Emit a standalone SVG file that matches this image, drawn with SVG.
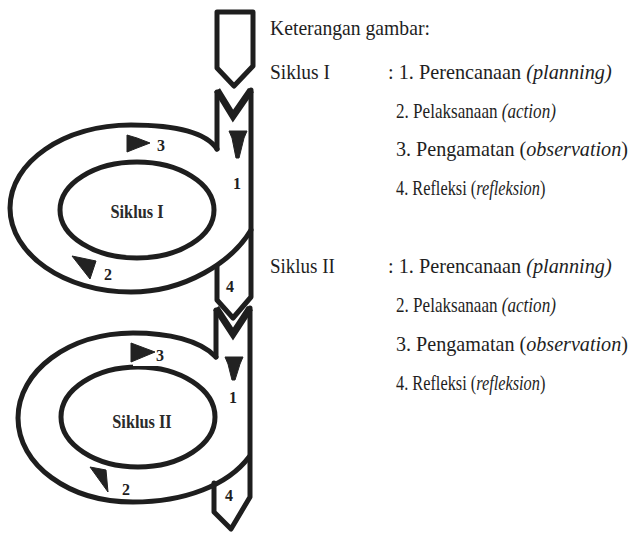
<svg xmlns="http://www.w3.org/2000/svg" width="633" height="533" viewBox="0 0 633 533">
  <style>
    .ln { fill: none; stroke: #1e1e1e; stroke-width: 5; stroke-linejoin: round; stroke-linecap: round; }
    .vee { fill: none; stroke: #1e1e1e; stroke-width: 7; stroke-linejoin: miter; }
    .tri { fill: #222; stroke: #222; stroke-width: 1; stroke-linejoin: round; }
    .num { font-family: "Liberation Serif", "Times New Roman", serif; font-weight: bold; font-size: 16px; fill: #1e1e1e; }
    .ctr { font-family: "Liberation Serif", "Times New Roman", serif; font-weight: bold; font-size: 19px; fill: #2a2a2a; text-anchor: middle; }
    .leg { font-family: "Liberation Serif", "Times New Roman", serif; font-size: 22px; fill: #1e1e1e; }
    .it { font-style: italic; }
  </style>

  <rect width="633" height="533" fill="#ffffff"/>

  <!-- entry arrow -->
  <g id="start-arrow">
    <path class="ln" d="M217 12 L253 12 L253 66 L234 86 L217 68 Z"/>
  </g>

  <!-- cycle I spiral -->
  <g id="cycle-1">
    <path class="ln" d="M217 149 L217 92"/>
    <path class="vee" d="M217 90 L233 116 L251 90"/>
    <path class="ln" d="M251 90 L251 297 L233 318 L217 300 L217 266"/>
    <path class="ln" d="M217 149 C205 131 172 125 131 125 C64 125 10 162 10 208 C10 254 64 292 131 292 C185 292 232 262 251 230"/>
    <ellipse class="ln" cx="137" cy="210" rx="77" ry="48"/>
    <text class="ctr" transform="translate(137 218) scale(0.86 1)">Siklus I</text>
  </g>

  <!-- cycle II spiral -->
  <g id="cycle-2">
    <path class="ln" d="M216 357 L216 310"/>
    <path class="vee" d="M216 308 L233 334 L250 308"/>
    <path class="ln" d="M250 308 L250 497 L231 529 L214 512 L214 483"/>
    <path class="ln" d="M216 357 C200 340 168 333 133 333 C69 333 18 371 18 418 C18 465 69 502 133 502 C185 502 228 485 249 457"/>
    <ellipse class="ln" cx="138" cy="417" rx="77" ry="50"/>
    <text class="ctr" transform="translate(142 428) scale(0.86 1)">Siklus II</text>
  </g>

  <!-- step markers -->
  <g id="markers">
    <path class="tri" d="M229 131 L247 131 L244 138 L239 158 L236 158 L232 138 Z"/>
    <text class="num" x="233" y="189">1</text>
    <path class="tri" d="M127 135 L137 138 L150 143 L137 148 L127 152 Z"/>
    <text class="num" x="157" y="151">3</text>
    <path class="tri" d="M72 256 L96 261 L90 279 Z"/>
    <text class="num" x="104" y="280">2</text>
    <text class="num" x="226" y="292">4</text>

    <path class="tri" d="M225 357 L243 357 L240 364 L235 380 L232 380 L228 364 Z"/>
    <text class="num" x="229" y="403">1</text>
    <rect x="133" y="343" width="30" height="23" fill="#ffffff"/>
    <path class="tri" d="M131 343 L155 352 L131 362 Z"/>
    <text class="num" x="156" y="361">3</text>
    <path class="tri" d="M90 467 L106 470 L108 492 Z"/>
    <text class="num" x="122" y="495">2</text>
    <text class="num" x="225" y="501">4</text>
  </g>

  <!-- legend -->
  <g id="legend">
    <text class="leg" transform="translate(270 35) scale(0.894 1)">Keterangan gambar:</text>

    <text class="leg" transform="translate(270 79) scale(0.885 1)">Siklus I</text>
    <text class="leg" transform="translate(388 79) scale(0.921 1)">: 1. Perencanaan  <tspan class="it">(planning)</tspan></text>
    <text class="leg" transform="translate(396 118) scale(0.777 1)">2. Pelaksanaan <tspan class="it">(action)</tspan></text>
    <text class="leg" transform="translate(396 156) scale(0.915 1)">3. Pengamatan (<tspan class="it">observation</tspan>)</text>
    <text class="leg" transform="translate(396 195) scale(0.742 1)">4. Refleksi (<tspan class="it">refleksion</tspan>)</text>

    <text class="leg" transform="translate(270 273) scale(0.864 1)">Siklus II</text>
    <text class="leg" transform="translate(388 273) scale(0.921 1)">: 1. Perencanaan  <tspan class="it">(planning)</tspan></text>
    <text class="leg" transform="translate(396 312) scale(0.777 1)">2. Pelaksanaan <tspan class="it">(action)</tspan></text>
    <text class="leg" transform="translate(396 351) scale(0.915 1)">3. Pengamatan (<tspan class="it">observation</tspan>)</text>
    <text class="leg" transform="translate(396 390) scale(0.742 1)">4. Refleksi (<tspan class="it">refleksion</tspan>)</text>
  </g>
</svg>
